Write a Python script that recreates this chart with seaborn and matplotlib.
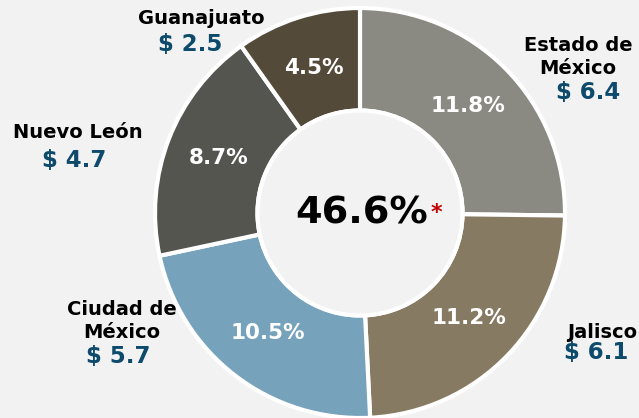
import matplotlib
matplotlib.use("Agg")
import matplotlib.pyplot as plt
import seaborn as sns
import numpy as np

states = ["Estado de\nMéxico", "Jalisco", "Ciudad de\nMéxico", "Nuevo León", "Guanajuato"]
values = [6.4, 6.1, 5.7, 4.7, 2.5]
value_labels = ["$ 6.4", "$ 6.1", "$ 5.7", "$ 4.7", "$ 2.5"]
pct_labels = ["11.8%", "11.2%", "10.5%", "8.7%", "4.5%"]
total_label = "46.6%"
colors = ["#8a8a83", "#877a62", "#76a2bc", "#555550", "#544a3a"]

sns.set_theme(style="white")
plt.rcParams["font.family"] = ["DejaVu Sans"]
bg = "#f2f2f2"

fig = plt.figure(figsize=(6.39, 4.18), dpi=100, facecolor=bg)
# axes in pixel coords: center (360,213), radius 205
R = 205
ax = fig.add_axes([(360 - R) / 639, 1 - (213 + R) / 418, 2 * R / 639, 2 * R / 418])
ax.set_facecolor(bg)

wedges, _ = ax.pie(values, colors=colors, startangle=90, counterclock=False,
                   radius=1.0,
                   wedgeprops=dict(width=0.50, edgecolor="white", linewidth=3))
ax.add_patch(plt.Circle((0, 0), 0.50, facecolor=bg, edgecolor="white", linewidth=3))
ax.set_xlim(-1, 1)
ax.set_ylim(-1, 1)
ax.set_aspect("equal")
ax.axis("off")

# percentage labels inside wedges
for w, p in zip(wedges, pct_labels):
    ang = np.deg2rad((w.theta1 + w.theta2) / 2)
    r = 0.74
    ax.text(r * np.cos(ang), r * np.sin(ang), p, ha="center", va="center",
            color="white", fontsize=15.5, fontweight="bold")

# center text
ax.text(0.01, 0.0, total_label, ha="center", va="center", fontsize=27.5,
        fontweight="bold", color="black")
ax.text(0.375, 0.0, "*", ha="center", va="center", fontsize=16,
        fontweight="bold", color="#c00000")

# outer labels (figure pixel coords)
name_pos = [(578, 57), (602, 332), (122, 321), (78, 133), (201, 18)]
val_pos = [(588, 92), (596, 352), (118, 357), (74, 160), (190, 45)]
for n, v, (nx, ny), (vx, vy) in zip(states, value_labels, name_pos, val_pos):
    fig.text(nx / 639, 1 - ny / 418, n, ha="center", va="center", fontsize=14,
             fontweight="bold", color="black", linespacing=1.3)
    fig.text(vx / 639, 1 - vy / 418, v, ha="center", va="center", fontsize=16.5,
             fontweight="bold", color="#0d4a6b")

fig.savefig("out.png", dpi=100, facecolor=bg)
